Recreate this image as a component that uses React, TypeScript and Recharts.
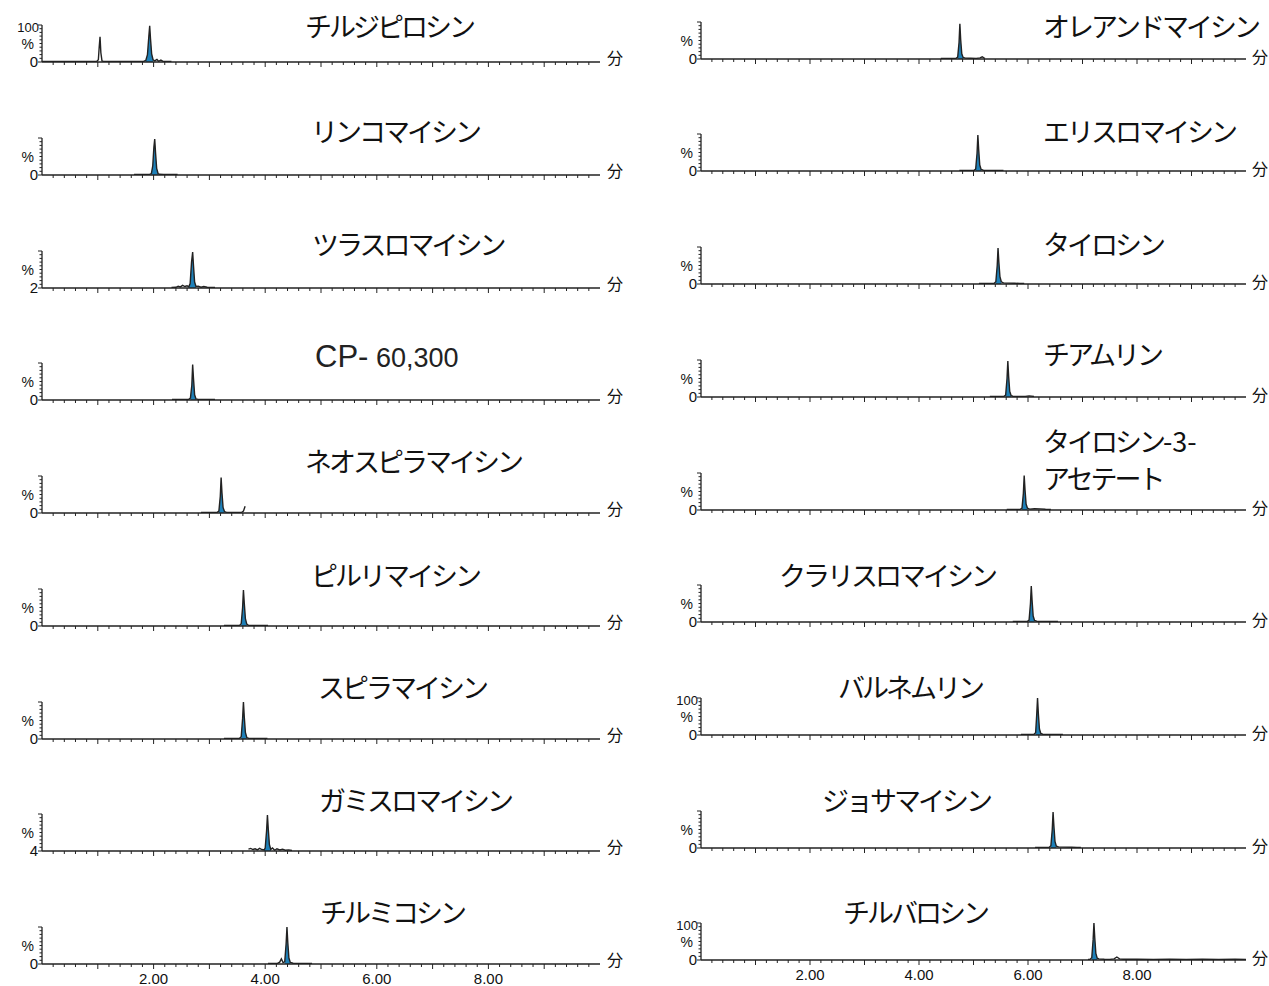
import React from 'react';
import { ComposedChart, Line, Area, XAxis, YAxis } from 'recharts';

type Pt = [number, number];

// ---- chromatogram traces: [retention time (min), intensity (%)] ----
const traceTildipirosin: Pt[] = [[0,1.5],[0.25,1.8],[0.5,1.3],[0.75,1.7],[0.98,1.5],[1.01,6],[1.025,40],[1.04,68],[1.055,25],[1.075,3],[1.1,1.6],[1.35,1.4],[1.6,1.7],[1.82,1.5],[1.86,4],[1.89,20],[1.915,70],[1.93,98],[1.945,62],[1.965,22],[1.99,6],[2.02,3],[2.06,7],[2.09,2],[2.13,5],[2.17,1.6],[2.32,1.5]];
const traceLincomycin: Pt[] = [[1.65,1.5],[1.75,1.8],[1.85,1.4],[1.93,1.7],[1.96,4],[1.985,25],[2.005,75],[2.02,97],[2.035,60],[2.055,18],[2.08,4],[2.1,2],[2.18,1.6],[2.3,1.8],[2.43,1.5]];
const traceTulathromycin: Pt[] = [[2.32,1.5],[2.4,2],[2.44,5],[2.48,3],[2.52,7],[2.56,4],[2.6,6],[2.63,3],[2.655,12],[2.68,70],[2.7,97],[2.715,60],[2.735,16],[2.76,4],[2.8,5],[2.85,2],[2.9,4],[2.96,2],[3.1,1.5]];
const traceCP60300: Pt[] = [[2.33,1.5],[2.45,1.7],[2.55,1.4],[2.63,1.6],[2.66,5],[2.685,40],[2.7,96],[2.715,58],[2.735,14],[2.76,3],[2.8,1.8],[2.95,1.5],[3.1,1.5]];
const traceNeospiramycin: Pt[] = [[2.85,1.5],[2.95,1.7],[3.05,1.4],[3.14,1.6],[3.17,5],[3.195,45],[3.21,96],[3.225,55],[3.245,15],[3.27,4],[3.3,2],[3.4,1.6],[3.5,1.5],[3.58,2],[3.61,5],[3.64,18]];
const tracePirlimycin: Pt[] = [[3.26,1.5],[3.35,1.8],[3.45,1.4],[3.54,1.6],[3.57,6],[3.595,50],[3.61,97],[3.625,62],[3.645,20],[3.67,5],[3.7,2],[3.8,1.7],[3.92,1.5],[4.05,1.5]];
const traceSpiramycin: Pt[] = [[3.26,1.5],[3.36,1.6],[3.46,1.4],[3.54,1.7],[3.57,6],[3.595,55],[3.61,100],[3.625,60],[3.645,18],[3.67,4],[3.7,2],[3.82,1.6],[3.93,1.5],[4.04,1.5]];
const traceGamithromycin: Pt[] = [[3.7,5],[3.74,7],[3.78,4],[3.82,6],[3.86,3],[3.9,7],[3.94,4],[3.98,3],[4.0,8],[4.025,55],[4.04,97],[4.055,60],[4.075,18],[4.1,4],[4.13,8],[4.17,2],[4.21,6],[4.26,3],[4.31,5],[4.36,2],[4.42,3],[4.48,1.5]];
const traceTilmicosin: Pt[] = [[4.05,1.5],[4.15,1.7],[4.22,1.6],[4.26,5],[4.29,14],[4.32,4],[4.35,6],[4.375,55],[4.39,100],[4.405,58],[4.425,16],[4.45,4],[4.5,2],[4.6,1.6],[4.72,1.7],[4.84,1.5]];

const traceOleandomycin: Pt[] = [[4.4,1.5],[4.5,1.7],[4.6,1.4],[4.68,1.6],[4.71,5],[4.735,45],[4.75,95],[4.765,52],[4.785,14],[4.81,4],[4.85,2.5],[4.95,2],[5.05,1.8],[5.12,3],[5.16,6],[5.19,3],[5.21,1.5]];
const traceErythromycin: Pt[] = [[4.74,1.5],[4.84,1.7],[4.94,1.4],[5.01,1.6],[5.04,5],[5.065,48],[5.08,97],[5.095,58],[5.115,16],[5.14,4],[5.18,2],[5.3,1.7],[5.42,1.6],[5.55,1.5]];
const traceTylosin: Pt[] = [[5.1,1.5],[5.2,1.7],[5.3,1.5],[5.38,1.8],[5.41,6],[5.435,50],[5.45,97],[5.465,60],[5.485,20],[5.51,6],[5.55,3],[5.65,2.5],[5.75,2],[5.85,1.7],[5.93,1.5]];
const traceTiamulin: Pt[] = [[5.3,1.5],[5.4,1.6],[5.5,1.4],[5.56,1.7],[5.59,5],[5.615,50],[5.63,97],[5.645,55],[5.665,15],[5.69,4],[5.72,2],[5.85,1.6],[5.95,1.7],[6.02,3],[6.11,1.5]];
const traceTylosinAcetate: Pt[] = [[5.61,1.5],[5.7,1.6],[5.8,1.5],[5.86,1.7],[5.89,5],[5.915,45],[5.93,93],[5.945,55],[5.965,16],[5.99,5],[6.03,2.5],[6.12,3.5],[6.22,3],[6.32,2],[6.42,1.5]];
const traceClarithromycin: Pt[] = [[5.72,1.5],[5.82,1.7],[5.92,1.4],[5.99,1.6],[6.02,5],[6.045,50],[6.06,97],[6.075,58],[6.095,16],[6.12,4],[6.16,2],[6.28,1.6],[6.4,1.7],[6.55,1.5]];
const traceValnemulin: Pt[] = [[5.87,1.5],[5.96,1.6],[6.05,1.4],[6.11,1.7],[6.14,6],[6.16,55],[6.175,100],[6.19,58],[6.21,16],[6.235,4],[6.27,2],[6.38,1.6],[6.5,1.7],[6.64,1.5]];
const traceJosamycin: Pt[] = [[6.13,1.5],[6.22,1.7],[6.32,1.5],[6.39,1.8],[6.42,6],[6.445,50],[6.46,97],[6.475,60],[6.495,18],[6.52,5],[6.56,3],[6.68,2.5],[6.8,2],[6.9,1.7],[6.97,1.5]];
const traceTylvalosin: Pt[] = [[7.1,1.5],[7.14,1.8],[7.17,6],[7.195,55],[7.21,100],[7.225,60],[7.245,18],[7.27,5],[7.3,3],[7.4,2],[7.5,1.8],[7.58,3],[7.63,8],[7.68,3],[7.75,2],[8.0,2.2],[8.3,1.8],[8.6,2.2],[8.9,1.8],[9.2,2.2],[9.5,1.8],[9.8,2.2],[10,1.8]];

// integrated (blue) peak ranges [start, end] in minutes
const leftPeaks: Pt[] = [[1.86,1.99],[1.96,2.08],[2.63,2.76],[2.66,2.76],[3.17,3.27],[3.57,3.67],[3.57,3.67],[3.98,4.1],[4.35,4.45]];
const rightPeaks: Pt[] = [[4.71,4.81],[5.04,5.14],[5.41,5.51],[5.59,5.69],[5.89,5.99],[6.02,6.12],[6.14,6.235],[6.42,6.52],[7.17,7.27]];

const leftTraces = [traceTildipirosin, traceLincomycin, traceTulathromycin, traceCP60300, traceNeospiramycin, tracePirlimycin, traceSpiramycin, traceGamithromycin, traceTilmicosin];
const rightTraces = [traceOleandomycin, traceErythromycin, traceTylosin, traceTiamulin, traceTylosinAcetate, traceClarithromycin, traceValnemulin, traceJosamycin, traceTylvalosin];

const leftTitles = ['チルジピロシン', 'リンコマイシン', 'ツラスロマイシン', 'CP- 60,300', 'ネオスピラマイシン', 'ピルリマイシン', 'スピラマイシン', 'ガミスロマイシン', 'チルミコシン'];
const rightTitles = ['オレアンドマイシン', 'エリスロマイシン', 'タイロシン', 'チアムリン', 'タイロシン-3-\nアセテート', 'クラリスロマイシン', 'バルネムリン', 'ジョサマイシン', 'チルバロシン'];

// y-axis bottom labels and whether "100" is shown
const leftZeroLabels = ['0', '0', '2', '0', '0', '0', '0', '4', '0'];
const rightZeroLabels = ['0', '0', '0', '0', '0', '0', '0', '0', '0'];
const leftShow100 = [true, false, false, false, false, false, false, false, false];
const rightShow100 = [false, false, false, false, false, false, true, false, true];

const xLabelValues = [2, 4, 6, 8];
const xTicks = Array.from({ length: 49 }, (_, i) => Math.round((i + 1) * 2) / 10);
const yTicks = [0, 10, 20, 30, 40, 50, 60, 70, 80, 90, 100];
const unitLabel = '分';

// ---- layout ----
const leftBaselines = [62, 175, 288, 400, 513, 626, 739, 851, 964];
const rightBaselines = [59, 171, 284, 397, 510, 622, 735, 848, 960];
const leftTitlePos = [[305, 27], [311, 132], [312, 245], [315, 357], [305, 462], [311, 576], [318, 688], [319, 801], [320, 913]];
const rightTitlePos = [[1043, 27], [1043, 132], [1043, 245], [1043, 355], [1043, 442], [779, 576], [838, 688], [822, 801], [843, 913]];

const AXIS_FONT = "'Liberation Sans', Arial, sans-serif";
const JP_FONT = "'Noto Sans CJK JP', 'Noto Sans', sans-serif";
const PLOT_H = 37;
const TOP_M = 8;
const XAXIS_H = 30;
const YAXIS_W = 42;

const YTick = (props: any) => {
  const { x, y, payload, zeroLabel, show100 } = props;
  const v = payload.value;
  const len = v === 100 || v === 0 ? 4 : 2.5;
  return (
    <g>
      <line x1={x} x2={x - len} y1={y} y2={y} stroke="#222" strokeWidth={1} />
      {v === 0 && (
        <text x={x - 4} y={y + 5} textAnchor="end" fontSize={15} fontFamily={AXIS_FONT} fill="#111">{zeroLabel}</text>
      )}
      {v === 50 && (
        <text x={x - 8} y={y + 5} textAnchor="end" fontSize={14} fontFamily={AXIS_FONT} fill="#111">%</text>
      )}
      {v === 100 && show100 && (
        <text x={x - 3} y={y + 7} textAnchor="end" fontSize={13} fontFamily={AXIS_FONT} fill="#111">100</text>
      )}
    </g>
  );
};

const XTick = (props: any) => {
  const { x, y, payload, showLabels } = props;
  const v = payload.value;
  const major = Math.abs(v - Math.round(v)) < 1e-6;
  return (
    <g>
      <line x1={x} x2={x} y1={y} y2={y + (major ? 5 : 3)} stroke="#222" strokeWidth={1} />
      {showLabels && xLabelValues.some((l) => Math.abs(l - v) < 1e-6) && (
        <text x={x} y={y + 20} textAnchor="middle" fontSize={15} fontFamily={AXIS_FONT} fill="#111">{v.toFixed(2)}</text>
      )}
    </g>
  );
};

type PanelProps = {
  trace: Pt[];
  peak: Pt;
  zeroLabel: string;
  show100: boolean;
  plotLeft: number;
  plotRight: number;
  baseline: number;
  showXLabels: boolean;
};

const Panel = ({ trace, peak, zeroLabel, show100, plotLeft, plotRight, baseline, showXLabels }: PanelProps) => {
  const data = trace.map(([t, v]) => ({ t, v, pk: t >= peak[0] - 1e-9 && t <= peak[1] + 1e-9 ? v : null }));
  const rightM = 10;
  const chartLeft = plotLeft - YAXIS_W;
  const width = plotRight - chartLeft + rightM;
  const height = TOP_M + PLOT_H + XAXIS_H;
  return (
    <div style={{ position: 'absolute', left: chartLeft, top: baseline - PLOT_H - TOP_M }}>
      <ComposedChart width={width} height={height} data={data} margin={{ top: TOP_M, right: rightM, left: 0, bottom: 0 }}>
        <XAxis
          dataKey="t"
          type="number"
          domain={[0, 10]}
          ticks={xTicks}
          interval={0}
          allowDataOverflow
          height={XAXIS_H}
          tickSize={0}
          tickMargin={0}
          tickLine={false}
          axisLine={{ stroke: '#222', strokeWidth: 1.3 }}
          tick={(p: any) => <XTick {...p} showLabels={showXLabels} />}
        />
        <YAxis
          type="number"
          domain={[0, 100]}
          ticks={yTicks}
          interval={0}
          allowDataOverflow
          width={YAXIS_W}
          tickSize={0}
          tickMargin={0}
          tickLine={false}
          axisLine={{ stroke: '#222', strokeWidth: 1.3 }}
          tick={(p: any) => <YTick {...p} zeroLabel={zeroLabel} show100={show100} />}
        />
        <Area
          type="linear"
          dataKey="pk"
          stroke="none"
          fill="#1e80b8"
          fillOpacity={1}
          isAnimationActive={false}
          connectNulls={false}
          dot={false}
          activeDot={false}
        />
        <Line
          type="linear"
          dataKey="v"
          stroke="#222"
          strokeWidth={1.4}
          dot={false}
          activeDot={false}
          isAnimationActive={false}
        />
      </ComposedChart>
    </div>
  );
};

// split a title into CJK runs (condensed) and Latin runs (normal spacing)
const runs = (s: string) => s.match(/[\x00-\x7F]+|[^\x00-\x7F]+/g) || [];

const Title = ({ text, x, cy }: { text: string; x: number; cy: number }) => {
  if (text.startsWith('CP-')) {
    return (
      <div style={{ position: 'absolute', left: x, top: cy - 20, lineHeight: '40px', whiteSpace: 'nowrap', fontFamily: AXIS_FONT, color: '#222' }}>
        <span style={{ fontSize: 31 }}>CP-</span>
        <span style={{ fontSize: 27 }}> 60,300</span>
      </div>
    );
  }
  const lines = text.split('\n');
  return (
    <>
      {lines.map((ln, i) => (
        <div
          key={i}
          style={{
            position: 'absolute',
            left: x,
            top: cy - 15 + i * 37,
            fontSize: 27,
            lineHeight: '27px',
            whiteSpace: 'nowrap',
            fontFamily: JP_FONT,
            color: '#111',
          }}
        >
          {runs(ln).map((r, j) => (
            <span key={j} style={{ letterSpacing: /^[\x00-\x7F]+$/.test(r) ? 0 : -3 }}>{r}</span>
          ))}
        </div>
      ))}
    </>
  );
};

const Unit = ({ x, cy }: { x: number; cy: number }) => (
  <div style={{ position: 'absolute', left: x, top: cy - 9, fontSize: 16, lineHeight: '16px', fontFamily: JP_FONT, color: '#111' }}>
    {unitLabel}
  </div>
);

export default function App() {
  return (
    <div style={{ position: 'absolute', left: 0, top: 0, width: 1269, height: 986, background: '#fff', overflow: 'hidden' }}>
      {leftTraces.map((tr, i) => (
        <React.Fragment key={'l' + i}>
          <Panel
            trace={tr}
            peak={leftPeaks[i]}
            zeroLabel={leftZeroLabels[i]}
            show100={leftShow100[i]}
            plotLeft={42}
            plotRight={600}
            baseline={leftBaselines[i]}
            showXLabels={i === leftTraces.length - 1}
          />
          <Title text={leftTitles[i]} x={leftTitlePos[i][0]} cy={leftTitlePos[i][1]} />
          <Unit x={607} cy={leftBaselines[i] - 4} />
        </React.Fragment>
      ))}
      {rightTraces.map((tr, i) => (
        <React.Fragment key={'r' + i}>
          <Panel
            trace={tr}
            peak={rightPeaks[i]}
            zeroLabel={rightZeroLabels[i]}
            show100={rightShow100[i]}
            plotLeft={701}
            plotRight={1246}
            baseline={rightBaselines[i]}
            showXLabels={i === rightTraces.length - 1}
          />
          <Title text={rightTitles[i]} x={rightTitlePos[i][0]} cy={rightTitlePos[i][1]} />
          <Unit x={1252} cy={rightBaselines[i] - 2} />
        </React.Fragment>
      ))}
    </div>
  );
}
